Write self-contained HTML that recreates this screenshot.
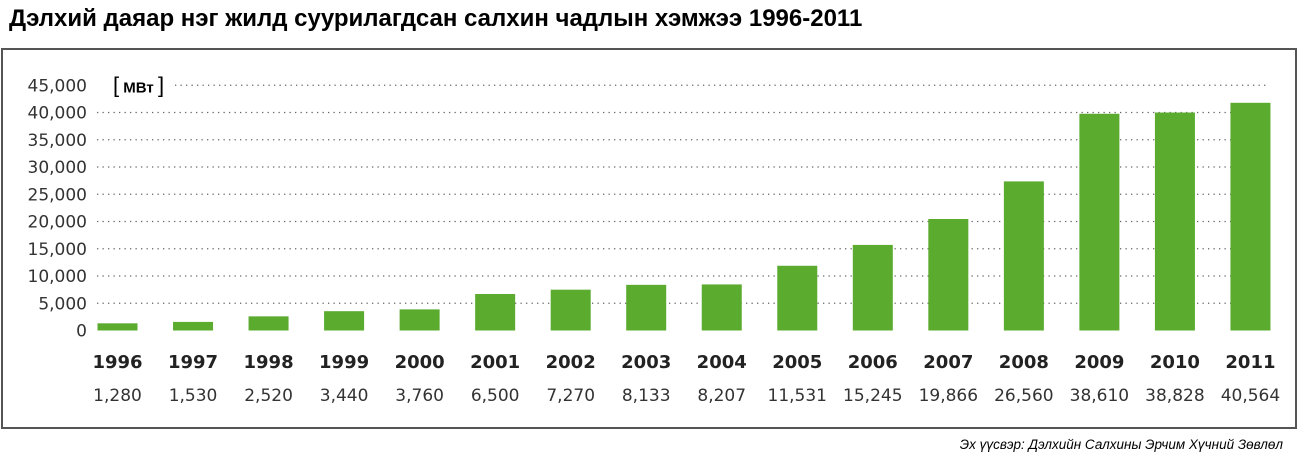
<!DOCTYPE html>
<html><head><meta charset="utf-8"><style>
body{margin:0;background:#fff;width:1299px;height:465px;overflow:hidden;font-family:"Liberation Sans","DejaVu Sans",sans-serif}
#title{position:absolute;left:9px;top:5px;font-size:24px;font-weight:bold;color:#000}
#box{position:absolute;left:1px;top:48px;width:1296px;height:381px;border:2px solid #555;box-sizing:border-box}
#src{position:absolute;right:16px;top:437px;font-size:13.5px;font-style:italic;color:#000}
svg{position:absolute;left:0;top:0}
</style></head><body>
<div id="title">Дэлхий даяар нэг жилд суурилагдсан салхин чадлын хэмжээ 1996-2011</div>
<div id="box"></div>
<svg id="chart" width="1299" height="465"></svg>
<div id="src">Эх үүсвэр: Дэлхийн Салхины Эрчим Хүчний Зөвлөл</div>
<script>
const years=["1996","1997","1998","1999","2000","2001","2002","2003","2004","2005","2006","2007","2008","2009","2010","2011"];
const values=[1280,1530,2520,3440,3760,6500,7270,8133,8207,11531,15245,19866,26560,38610,38828,40564];
const valueLabels=["1,280","1,530","2,520","3,440","3,760","6,500","7,270","8,133","8,207","11,531","15,245","19,866","26,560","38,610","38,828","40,564"];
const ticks=[0,5000,10000,15000,20000,25000,30000,35000,40000,45000];
const tickLabels=["0","5,000","10,000","15,000","20,000","25,000","30,000","35,000","40,000","45,000"];
const NS="http://www.w3.org/2000/svg";
const svg=document.getElementById('chart');
const y0=330.5,pxPer=27.25/5000;
const y=v=>y0-v*pxPer;
const yb=v=>y0-v*pxPer*1.03;
const x=i=>117.5+i*75.53;
function mk(t,a){const e=document.createElementNS(NS,t);for(const k in a)e.setAttribute(k,a[k]);svg.appendChild(e);return e;}
ticks.forEach((t,i)=>{
  const tl=mk('text',{x:87,y:y(t)+6,'text-anchor':'end','font-size':17,fill:'#333','font-family':'DejaVu Sans, sans-serif'});
  tl.textContent=tickLabels[i];
  
  
  if(t>0){
    const g=mk('line',{x1:t===45000?175:97,x2:1268,y1:y(t),y2:y(t),stroke:'#666','stroke-width':1.3,'stroke-dasharray':'1.3 4.2'});
    
    
  }
});
const u=mk('text',{x:113,y:y(45000)+7,'font-size':15,'font-weight':'bold',fill:'#000'});
u.innerHTML='<tspan font-size="22" font-weight="normal">[</tspan> МВт <tspan font-size="22" font-weight="normal">]</tspan>';


years.forEach((yr,i)=>{
  const b=mk('rect',{x:x(i)-20,y:yb(values[i]),width:40,height:y0-yb(values[i]),fill:'#5aab2e'});
  
  
  const t=mk('text',{x:x(i),y:368,'text-anchor':'middle','font-size':18,'font-weight':'bold',fill:'#222','font-family':'DejaVu Sans, sans-serif'});
  t.textContent=yr;
  
  
  const v=mk('text',{x:x(i),y:401,'text-anchor':'middle','font-size':17,fill:'#333','font-family':'DejaVu Sans, sans-serif'});
  v.textContent=valueLabels[i];
  
  
});
</script>
</body></html>
